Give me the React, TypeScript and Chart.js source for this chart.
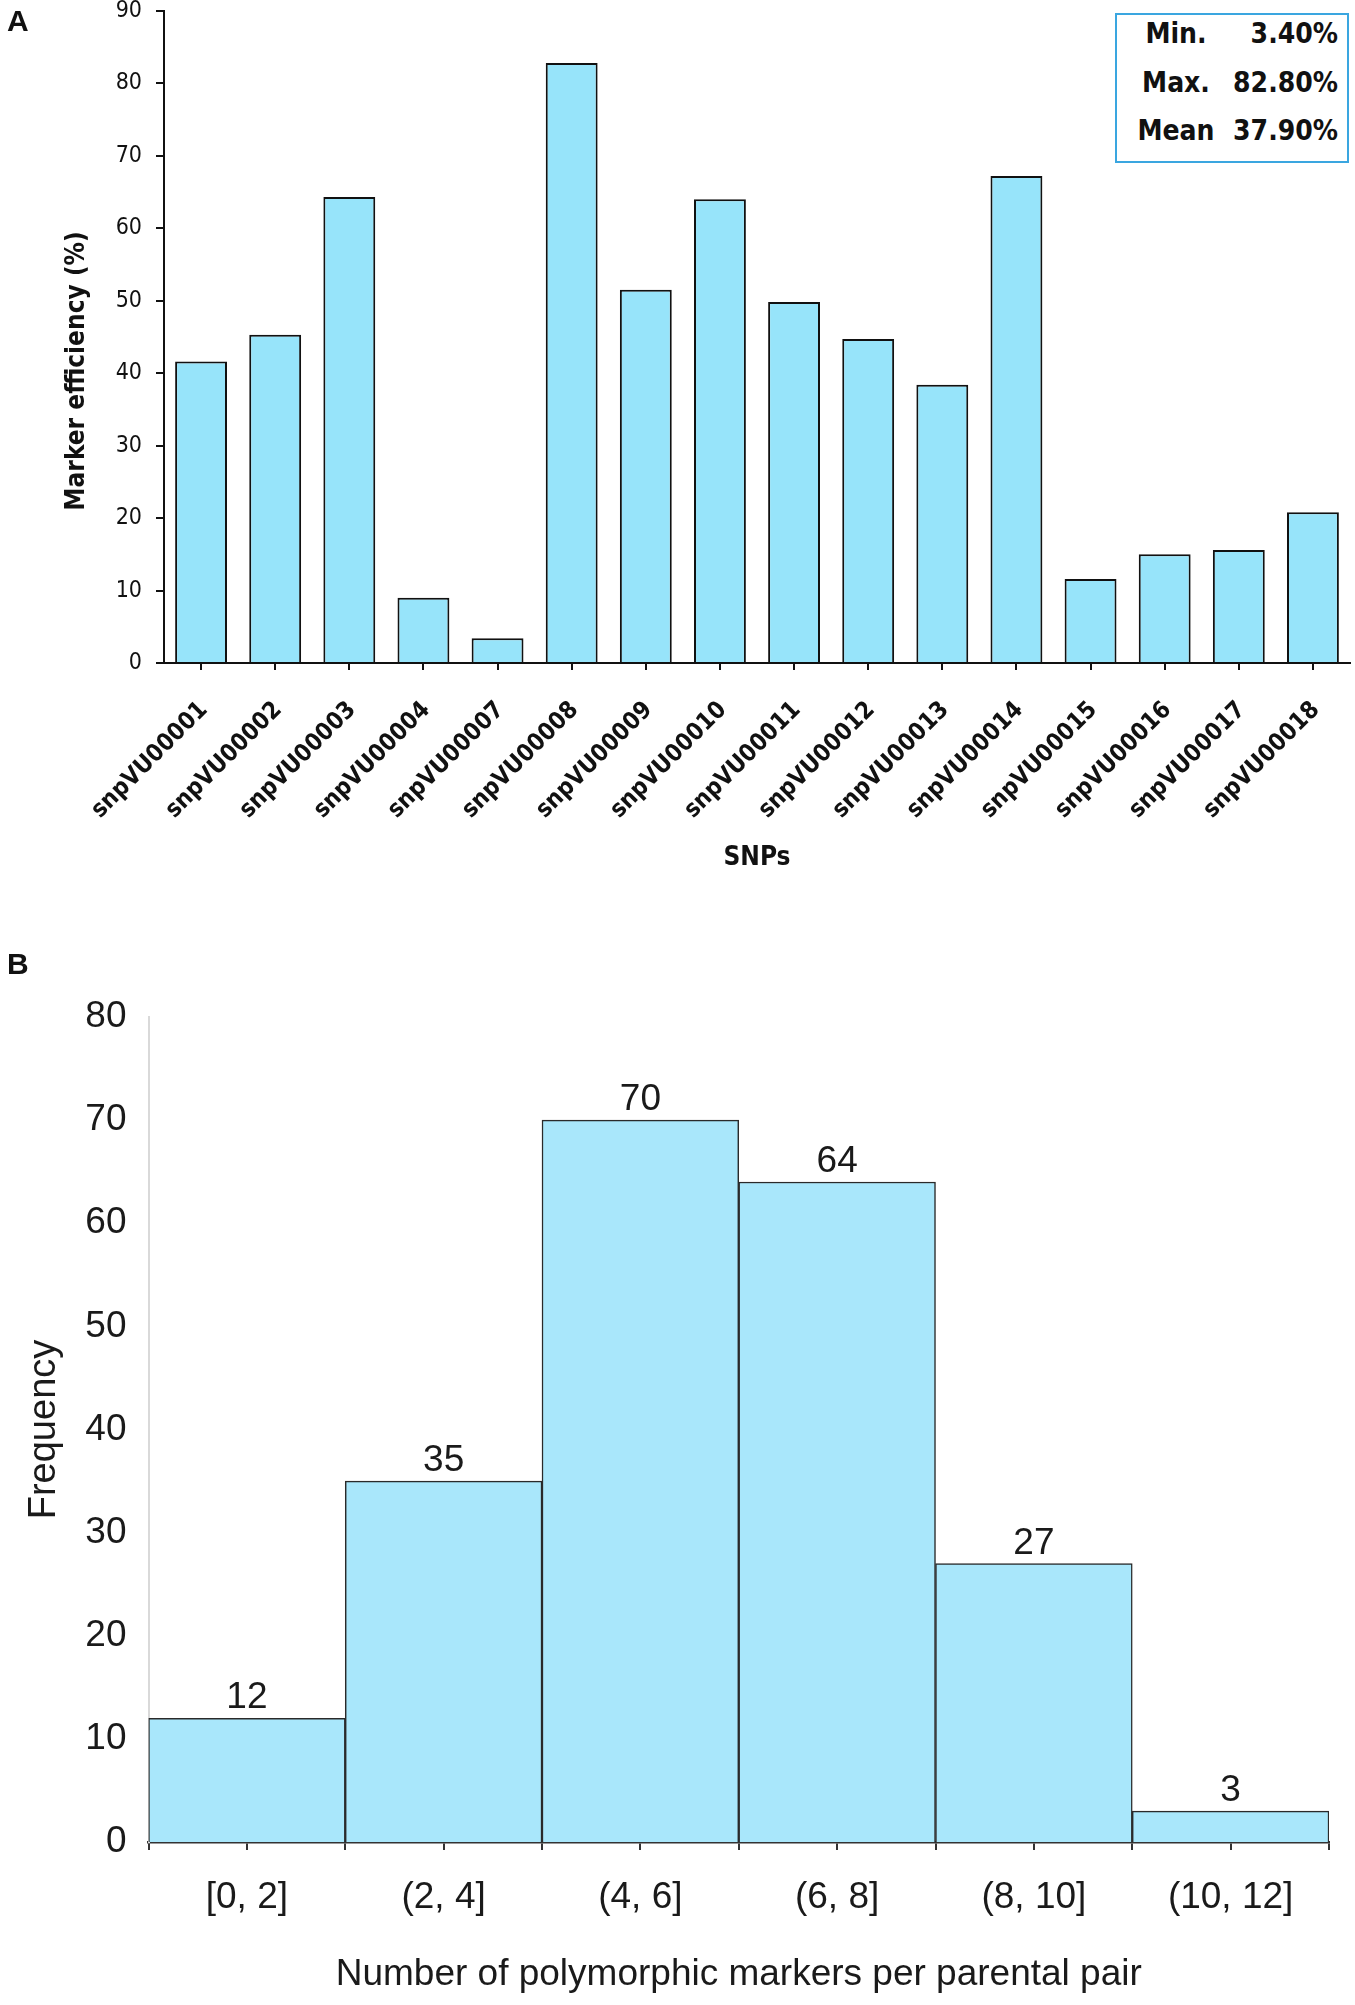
import { useEffect, useRef } from 'react';
import Chart from 'chart.js/auto';

// Panel A: marker efficiency per SNP
const snpLabels = [
  'snpVU00001', 'snpVU00002', 'snpVU00003', 'snpVU00004',
  'snpVU00007', 'snpVU00008', 'snpVU00009', 'snpVU00010',
  'snpVU00011', 'snpVU00012', 'snpVU00013', 'snpVU00014',
  'snpVU00015', 'snpVU00016', 'snpVU00017', 'snpVU00018'
];
const snpEfficiency = [41.6, 45.3, 64.3, 9.0, 3.4, 82.8, 51.5, 64.0, 49.8, 44.7, 38.4, 67.2, 11.6, 15.0, 15.6, 20.8];
const summaryLabels = ['Min.', 'Max.', 'Mean'];
const summaryValues = ['3.40%', '82.80%', '37.90%'];

// Panel B: histogram of polymorphic markers per parental pair
const binLabels = ['[0, 2]', '(2, 4]', '(4, 6]', '(6, 8]', '(8, 10]', '(10, 12]'];
const binCenters = [1, 3, 5, 7, 9, 11];
const binCounts = [12, 35, 70, 64, 27, 3];

const fontA = "'DejaVu Sans Condensed', 'DejaVu Sans', sans-serif";
const fontB = "'Liberation Sans', Arial, sans-serif";

function EfficiencyChart() {
  const canvasRef = useRef<HTMLCanvasElement>(null);

  useEffect(() => {
    const canvas = canvasRef.current;
    if (!canvas) return;

    // y title sits a little below the middle of the axis in the original
    const yTitle = {
      id: 'yTitleA',
      afterDraw(chart: any) {
        const { ctx } = chart;
        ctx.save();
        ctx.translate(77, 388);
        ctx.rotate(-Math.PI / 2);
        ctx.font = `bold 26px ${fontA}`;
        ctx.fillStyle = '#111';
        ctx.textAlign = 'center';
        ctx.textBaseline = 'middle';
        ctx.fillText('Marker efficiency (%)', 0, 0);
        ctx.restore();
      }
    };

    const chart = new Chart(canvas, {
      type: 'bar',
      data: {
        labels: snpLabels,
        datasets: [{
          label: 'Marker efficiency',
          data: snpEfficiency,
          backgroundColor: '#97e4fa',
          borderColor: '#111',
          borderWidth: 2,
          categoryPercentage: 0.7,
          barPercentage: 1
        }]
      },
      options: {
        animation: false,
        responsive: true,
        maintainAspectRatio: false,
        layout: { padding: { top: 0, right: 5, left: 0, bottom: 0 } },
        plugins: {
          legend: { display: false },
          tooltip: { enabled: false }
        },
        scales: {
          x: {
            afterFit: (scale: any) => {
              scale.height = 267;
              scale.paddingRight = 0;
            },
            grid: { drawOnChartArea: false, offset: false, tickLength: 7, color: '#111', lineWidth: 2 },
            border: { color: '#111', width: 2 },
            ticks: {
              autoSkip: false,
              minRotation: 45,
              maxRotation: 45,
              padding: 26,
              labelOffset: 3,
              color: '#111',
              font: { family: fontA, size: 24, weight: 'bold' }
            },
            title: {
              display: true,
              text: 'SNPs',
              color: '#111',
              font: { family: fontA, size: 26, weight: 'bold' },
              padding: { top: 0, bottom: 56 }
            }
          },
          y: {
            min: 0,
            max: 90,
            afterFit: (scale: any) => { scale.width = 164; },
            grid: { drawOnChartArea: false, tickLength: 8, color: '#111', lineWidth: 2 },
            border: { color: '#111', width: 2 },
            ticks: {
              stepSize: 10,
              padding: 14,
              color: '#111',
              font: { family: fontA, size: 23 }
            }
          }
        }
      },
      plugins: [yTitle]
    });
    return () => {
      chart.destroy();
    };
  }, []);

  return <canvas ref={canvasRef} />;
}

function HistogramChart() {
  const canvasRef = useRef<HTMLCanvasElement>(null);

  useEffect(() => {
    const canvas = canvasRef.current;
    if (!canvas) return;

    const barValues = {
      id: 'barValuesB',
      afterDatasetsDraw(chart: any) {
        const { ctx } = chart;
        const meta = chart.getDatasetMeta(0);
        ctx.save();
        ctx.font = `37px ${fontB}`;
        ctx.fillStyle = '#1a1a1a';
        ctx.textAlign = 'center';
        ctx.textBaseline = 'alphabetic';
        meta.data.forEach((bar: any, i: number) => {
          ctx.fillText(String(binCounts[i]), bar.x, bar.y - 10);
        });
        ctx.restore();
      }
    };

    const chart = new Chart(canvas, {
      type: 'bar',
      data: {
        datasets: [{
          label: 'Frequency',
          data: binCenters.map((x, i) => ({ x, y: binCounts[i] })),
          backgroundColor: '#a9e7fb',
          borderColor: '#2a2a2a',
          borderWidth: 1.5,
          barThickness: 'flex',
          categoryPercentage: 1,
          barPercentage: 1
        }]
      },
      options: {
        animation: false,
        responsive: true,
        maintainAspectRatio: false,
        layout: { padding: { top: 87, right: 10, left: 0, bottom: 0 } },
        plugins: {
          legend: { display: false },
          tooltip: { enabled: false }
        },
        scales: {
          x: {
            type: 'linear',
            min: 0,
            max: 12,
            offset: false,
            afterFit: (scale: any) => { scale.height = 163; },
            grid: { drawOnChartArea: false, offset: false, tickLength: 8, color: '#333', lineWidth: 2 },
            border: { color: '#333', width: 2.5 },
            ticks: {
              stepSize: 1,
              autoSkip: false,
              maxRotation: 0,
              padding: 26,
              color: '#1a1a1a',
              font: { family: fontB, size: 37 },
              callback: (value: any) => {
                const v = Number(value);
                return v % 2 === 1 ? binLabels[(v - 1) / 2] : '';
              }
            },
            title: {
              display: true,
              text: 'Number of polymorphic markers per parental pair',
              color: '#1a1a1a',
              font: { family: fontB, size: 37 },
              padding: { top: 0, bottom: 8 }
            }
          },
          y: {
            min: 0,
            max: 80,
            afterFit: (scale: any) => { scale.width = 148.5; },
            grid: { display: false, drawTicks: false, tickLength: 0 },
            border: { color: '#d9d9d9', width: 2 },
            ticks: {
              stepSize: 10,
              padding: 22,
              color: '#1a1a1a',
              font: { family: fontB, size: 37 }
            },
            title: {
              display: true,
              text: 'Frequency',
              color: '#1a1a1a',
              font: { family: fontB, size: 38 },
              padding: { top: 22, bottom: 0 }
            }
          }
        }
      },
      plugins: [barValues]
    });
    return () => {
      chart.destroy();
    };
  }, []);

  return <canvas ref={canvasRef} />;
}

export default function App() {
  return (
    <div style={{ position: 'absolute', left: 0, top: 0, width: 1355, height: 2005, background: '#fff', overflow: 'hidden' }}>
      <div style={{ position: 'absolute', left: 0, top: -17, width: 1355, height: 947 }}>
        <EfficiencyChart />
      </div>
      <div style={{ position: 'absolute', left: 7, top: 6, font: 'bold 30px/30px "Liberation Sans", Arial, sans-serif', color: '#111' }}>A</div>
      <div
        style={{
          position: 'absolute',
          left: 1115,
          top: 13,
          width: 234,
          height: 150,
          boxSizing: 'border-box',
          border: '2px solid #3aa6e0',
          background: '#fff',
          fontFamily: fontA,
          fontWeight: 'bold',
          fontSize: 28,
          color: '#111'
        }}
      >
        {summaryLabels.map((label, i) => (
          <div key={label} style={{ position: 'absolute', left: 0, right: 0, top: 4 + i * 48.5, height: 30, lineHeight: '30px' }}>
            <span style={{ position: 'absolute', left: 59, transform: 'translateX(-50%)' }}>{label}</span>
            <span style={{ position: 'absolute', right: 9 }}>{summaryValues[i]}</span>
          </div>
        ))}
      </div>
      <div style={{ position: 'absolute', left: 0, top: 930, width: 1355, height: 1075 }}>
        <HistogramChart />
      </div>
      <div style={{ position: 'absolute', left: 7, top: 949, font: 'bold 30px/30px "Liberation Sans", Arial, sans-serif', color: '#111' }}>B</div>
    </div>
  );
}
